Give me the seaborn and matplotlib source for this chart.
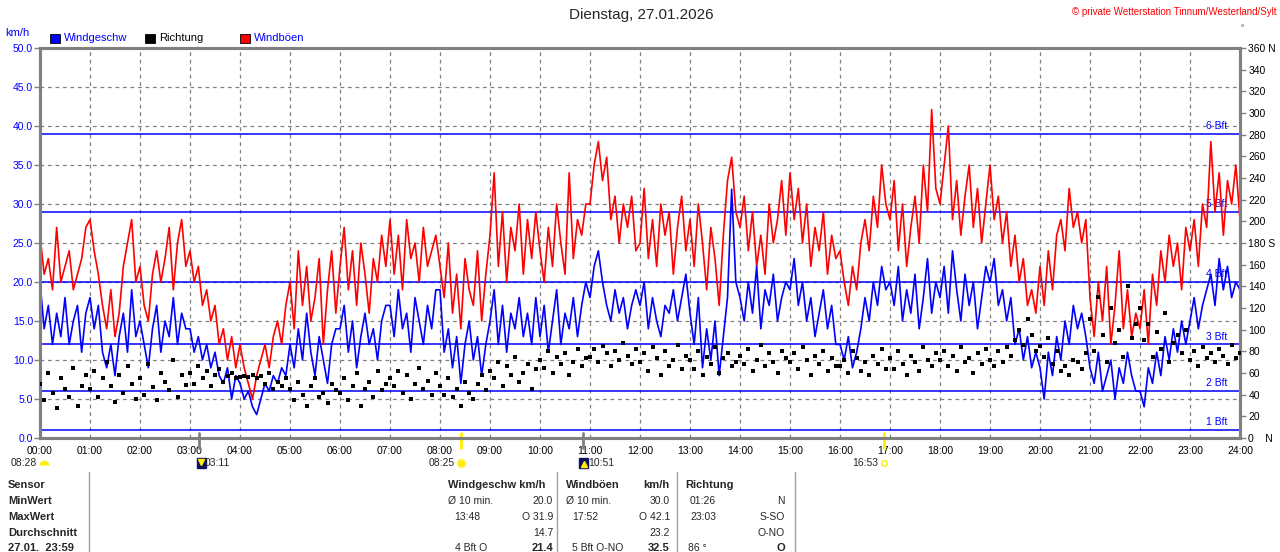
import numpy as np
import pandas as pd
import matplotlib.pyplot as plt
from matplotlib.patches import Rectangle
from matplotlib.lines import Line2D
import seaborn as sns

# 5-minute samples, 00:00 .. 24:00
minutes = np.arange(0, 24 * 60 + 1, 5)

gust = [
    26, 21, 23, 19, 27, 20, 22, 24, 19, 21, 23, 27,
    28, 24, 21, 17, 14, 19, 13, 16, 22, 25, 28, 20,
    22, 17, 15, 21, 24, 20, 23, 27, 19, 25, 28, 22,
    24, 20, 22, 17, 19, 15, 17, 12, 14, 10, 13, 9,
    12, 9, 7, 5, 8, 10, 12, 9, 13, 15, 12, 17,
    20, 14, 24, 17, 22, 15, 18, 23, 12, 19, 24, 16,
    22, 27, 19, 24, 17, 25, 21, 16, 23, 20, 26, 22,
    28, 21, 26, 19, 28, 23, 25, 20, 27, 22, 24, 26,
    22, 18, 25, 16, 21, 14, 23, 19, 17, 24, 15, 21,
    26, 34, 22, 29, 20, 27, 24, 30, 21, 28, 23, 29,
    24, 20, 27, 22, 30, 25, 21, 34, 23, 28, 26, 30,
    30, 35, 38, 33, 36, 28, 31, 25, 30, 27, 31, 24,
    25, 32, 23, 28, 22, 30, 26, 29, 21, 27, 31, 24,
    28, 22, 30, 25, 19, 27, 23, 17, 26, 33, 36, 29,
    27, 31, 24, 29, 22, 26, 21, 30, 25, 28, 33, 26,
    34, 28, 32, 25, 30, 22, 27, 24, 29, 21, 26, 23,
    24, 20, 17, 22, 19, 25, 28, 24, 31, 27, 35, 30,
    28, 33, 24, 30, 22, 27, 31, 25, 35, 29, 42.1, 32,
    30, 35, 40, 28, 33, 26, 31, 35, 27, 32, 25, 30,
    35, 28, 31, 25, 29, 22, 26, 20, 23, 17, 19, 16,
    22, 17, 24, 19, 26, 28, 24, 32, 27, 29, 25, 28,
    18, 13, 20, 15, 22, 12, 17, 24, 14, 19, 13, 16,
    14, 19, 12, 21, 17, 24, 20, 26, 22, 25, 19, 27,
    24, 28, 22, 30, 27, 38, 29, 34, 26, 33, 30, 35, 28,
]

speed = [
    20, 14, 17, 12, 16, 13, 18, 12, 15, 17, 11, 16,
    18, 14, 17, 11, 9, 12, 8, 13, 16, 11, 19, 13,
    15, 12, 9, 14, 17, 11, 15, 13, 18, 12, 16, 14,
    14, 11, 13, 10, 12, 9, 11, 8, 7, 9, 5, 8,
    7, 5, 6, 4, 3, 5, 7, 6, 8, 7, 9, 8,
    12, 9, 14, 10, 16, 11, 8, 13, 10, 7, 12, 14,
    14, 17, 11, 15, 9, 13, 16, 12, 14, 10, 15, 17,
    17, 13, 19, 14, 16, 11, 18, 15, 12, 17, 14, 19,
    19, 11, 14, 9, 13, 7, 12, 15, 10, 13, 8, 12,
    15, 19, 12, 17, 11, 16, 14, 18, 13, 16, 12, 18,
    13, 17, 11, 15, 19, 12, 16, 14, 18, 13, 17, 20,
    18, 22, 24, 20, 17, 15, 19, 16, 18, 14, 17, 19,
    17, 20, 14, 18, 15, 13, 17, 16, 19, 15, 18, 21,
    16, 12, 18, 9, 14, 10, 15, 8, 13, 18, 31.9, 20,
    18, 15, 20, 16, 22, 14, 19, 17, 21, 15, 18, 20,
    19, 23, 17, 20, 15, 18, 13, 16, 19, 14, 17, 12,
    12, 10, 13, 9, 11, 14, 18, 15, 20, 17, 22, 19,
    20, 17, 22, 15, 19, 16, 21, 14, 18, 23, 16, 20,
    18, 22, 16, 24, 19, 15, 21, 17, 20, 14, 18, 22,
    20, 23, 17, 19, 15, 18, 12, 14, 10, 13, 9, 11,
    9, 5, 11, 8, 13, 10, 15, 12, 17, 14, 16, 13,
    9, 7, 11, 6, 8, 10, 5, 9, 7, 11, 8, 6,
    6, 4, 9, 7, 11, 8, 13, 10, 14, 11, 15, 12,
    15, 18, 14, 17, 19, 21, 17, 23, 19, 22, 18, 20, 19,
]

direction = [
    50, 35, 60, 42, 28, 55, 45, 38, 65, 30, 48, 58,
    45, 62, 38, 55, 70, 48, 33, 58, 42, 66, 50, 36,
    55, 40, 68, 47, 35, 60, 52, 44, 72, 38, 58, 49,
    60, 50, 66, 55, 62, 48, 58, 64, 52, 57, 60, 55,
    56, 57, 56, 58, 55, 57, 50, 60, 45, 52, 48, 55,
    45, 35, 52, 40, 30, 48, 55, 38, 42, 32, 50, 44,
    42, 55, 35, 48, 60, 30, 45, 52, 38, 62, 44, 50,
    55, 48, 62, 42, 58, 36, 50, 65, 45, 53, 40, 60,
    48, 40, 55, 38, 45, 30, 52, 42, 36, 50, 58, 44,
    62, 55, 70, 48, 66, 58, 75, 52, 60, 68, 45, 64,
    72, 65, 80, 60, 75, 68, 78, 58, 70, 82, 66, 74,
    75, 82, 70, 85, 78, 66, 80, 72, 88, 76, 68, 82,
    70, 78, 62, 84, 74, 58, 80, 66, 72, 86, 64, 76,
    72, 64, 80, 58, 75, 68, 84, 60, 74, 78, 66, 70,
    76, 68, 82, 62, 72, 86, 66, 78, 70, 60, 80, 74,
    70, 78, 64, 84, 72, 58, 76, 68, 80, 62, 74, 66,
    66, 72, 60, 80, 74, 62, 70, 58, 76, 68, 82, 64,
    74, 64, 80, 68, 58, 76, 70, 62, 84, 72, 66, 78,
    72, 80, 66, 76, 62, 84, 70, 74, 60, 78, 68, 82,
    72, 66, 80, 70, 84, 76, 90, 100, 86, 110, 95, 80,
    85, 75, 92, 68, 80, 62, 66, 58, 72, 70, 64, 78,
    110, 80, 130, 95, 70, 120, 88, 100, 75, 140, 92, 105,
    120, 90, 105, 75, 98, 82, 115, 70, 88, 95, 78, 100,
    72, 80, 66, 84, 74, 78, 70, 82, 76, 68, 86, 74, 78,
]

hour_labels = [f"{h:02d}:00" for h in range(25)]
bft_limits = [1, 6, 12, 20, 29, 39]
bft_labels = ["1 Bft", "2 Bft", "3 Bft", "4 Bft", "5 Bft", "6 Bft"]
dir_ticks = list(range(0, 361, 20))
dir_labels = [{0: "0    N", 180: "180 S", 360: "360 N"}.get(d, str(d)) for d in dir_ticks]

# sun / moon events (hours), label
sun_moon = [(0.0, "08:28"), (3 + 11 / 60, "03:11"), (8 + 25 / 60, "08:25"),
            (10 + 51 / 60, "10:51"), (16 + 53 / 60, "16:53")]

df = pd.DataFrame({
    "Stunde": minutes / 60,
    "Windböen": gust,
    "Windgeschw": speed,
    "Richtung": direction,
})

sns.set_style("white")
plt.rcParams['font.family'] = ['Liberation Sans', 'DejaVu Sans']

W, H = 1280, 552
BLUE = "#0000ff"
GREY = "#808080"


def fx(x):
    return x / W


def fy(y):
    return 1 - y / H


fig = plt.figure(figsize=(12.8, 5.52), dpi=100)
ax = fig.add_axes([fx(40), fy(438), 1200 / W, 390 / H])

# grid
for h in range(1, 24):
    ax.axvline(h, color=GREY, lw=0.9, ls=(0, (3, 3)), zorder=0)
for v in range(5, 50, 5):
    ax.axhline(v, color=GREY, lw=0.9, ls=(0, (3, 3)), zorder=0)

# Beaufort limits
for v, lab in zip(bft_limits, bft_labels):
    ax.axhline(v, color=BLUE, lw=1.1, zorder=1)
    ax.text(23.74, v + 0.35, lab, color=BLUE, fontsize=7.5, ha="right", va="bottom", zorder=1)

sns.lineplot(data=df, x="Stunde", y="Windböen", color="#ff0000", lw=1.2, ax=ax, zorder=2)
sns.lineplot(data=df, x="Stunde", y="Windgeschw", color=BLUE, lw=1.2, ax=ax, zorder=3)

ax.set_xlim(0, 24)
ax.set_ylim(0, 50)
ax.set_xticks(range(25))
ax.set_xticklabels(hour_labels)
ax.set_yticks(range(0, 51, 5))
ax.set_yticklabels([f"{v:.1f}" for v in range(0, 51, 5)])
ax.set_xlabel("")
ax.set_ylabel("")
ax.tick_params(axis="x", length=4, width=1, color=GREY, labelsize=7.5, pad=2, labelcolor="black")
ax.tick_params(axis="y", length=4, width=1, color=GREY, labelsize=7.5, pad=1, labelcolor=BLUE)

ax2 = ax.twinx()
sns.scatterplot(data=df, x="Stunde", y="Richtung", color="black", marker="s",
                s=5, linewidth=0, ax=ax2, zorder=4)
ax2.set_ylim(0, 360)
ax2.set_yticks(dir_ticks)
ax2.set_yticklabels(dir_labels)
ax2.set_ylabel("")
ax2.tick_params(axis="y", length=4, width=1, color=GREY, labelsize=7.5, pad=2, labelcolor="black")

for a in (ax, ax2):
    for s in a.spines.values():
        s.set_color(GREY)
        s.set_linewidth(2.2)

# markers on the time axis
tr = ax.get_xaxis_transform()
for t, c in [(3 + 11 / 60, GREY), (8 + 25 / 60, "#ffee00"), (10 + 51 / 60, GREY), (16 + 53 / 60, "#ffee00")]:
    ax.plot([t, t], [-0.025, 0.012], color=c, lw=2, transform=tr, clip_on=False, zorder=6)

# sun / moon row
row_y = fy(463)
fig.text(fx(37), row_y, sun_moon[0][1], fontsize=7.5, ha="right", va="center")
fig.add_artist(Line2D([fx(44)], [fy(465)], marker="o", ms=7, fillstyle="top",
                      mfc="#ffee00", mfcalt="none", mec="none"))
fig.add_artist(Rectangle((fx(197), fy(468)), 9 / W, 10 / H, color="#101060"))
fig.add_artist(Line2D([fx(201)], [fy(462)], marker="v", ms=4, color="#ffee00"))
fig.text(fx(205), row_y, sun_moon[1][1], fontsize=7.5, ha="left", va="center")
fig.text(fx(455), row_y, sun_moon[2][1], fontsize=7.5, ha="right", va="center")
fig.add_artist(Line2D([fx(461)], [row_y], marker="o", ms=6, color="#ffee00", mec="#fff27a"))
fig.add_artist(Rectangle((fx(579), fy(468)), 9 / W, 10 / H, color="#101060"))
fig.add_artist(Line2D([fx(584)], [fy(464)], marker="^", ms=4, color="#ffee00"))
fig.text(fx(588), row_y, sun_moon[3][1], fontsize=7.5, ha="left", va="center")
fig.text(fx(878), row_y, sun_moon[4][1], fontsize=7.5, ha="right", va="center")
fig.add_artist(Line2D([fx(884)], [row_y], marker="o", ms=4, mfc="none", mec="#ffee00"))

# title and header texts
fig.text(fx(641), fy(15), "Dienstag, 27.01.2026", fontsize=11, ha="center", va="center")
fig.text(fx(1277), fy(12), "© private Wetterstation Tinnum/Westerland/Sylt", fontsize=7,
         color="#ff0000", ha="right", va="center")
fig.text(fx(1242), fy(29), "°", fontsize=6, ha="center", va="center")
fig.text(fx(5), fy(33), "km/h", fontsize=8, color=BLUE, ha="left", va="center")

legend_items = [(50, BLUE, "Windgeschw", BLUE), (145, "black", "Richtung", "black"),
                (240, "#ff0000", "Windböen", BLUE)]
for x0, fc, lab, tc in legend_items:
    fig.add_artist(Rectangle((fx(x0), fy(43)), 10 / W, 9 / H, facecolor=fc,
                             edgecolor="black", lw=0.6))
    fig.text(fx(x0 + 14), fy(38), lab, fontsize=8, color=tc, ha="left", va="center")

# summary table
for xs in (89, 557, 677, 795):
    fig.add_artist(Line2D([fx(xs), fx(xs)], [fy(472), fy(552)], color="#a0a0a0", lw=1))

rows_y = [485, 501, 517, 533, 548]
left_labels = ["Sensor", "MinWert", "MaxWert", "Durchschnitt", "27.01.  23:59"]
for y, lab in zip(rows_y, left_labels):
    fig.text(fx(8), fy(y), lab, fontsize=8, fontweight="bold", ha="left", va="center")

table_cells = [
    # (x, row, text, align, bold)
    (448, 0, "Windgeschw km/h", "left", True),
    (448, 1, "Ø 10 min.", "left", False), (553, 1, "20.0", "right", False),
    (454, 2, "13:48", "left", False), (553, 2, "O 31.9", "right", False),
    (553, 3, "14.7", "right", False),
    (455, 4, "4 Bft O", "left", False), (553, 4, "21.4", "right", True),
    (566, 0, "Windböen", "left", True), (670, 0, "km/h", "right", True),
    (566, 1, "Ø 10 min.", "left", False), (670, 1, "30.0", "right", False),
    (572, 2, "17:52", "left", False), (670, 2, "O 42.1", "right", False),
    (670, 3, "23.2", "right", False),
    (572, 4, "5 Bft O-NO", "left", False), (670, 4, "32.5", "right", True),
    (685, 0, "Richtung", "left", True),
    (690, 1, "01:26", "left", False), (785, 1, "N", "right", False),
    (690, 2, "23:03", "left", False), (785, 2, "S-SO", "right", False),
    (785, 3, "O-NO", "right", False),
    (688, 4, "86 °", "left", False), (785, 4, "O", "right", True),
]
for x, r, txt, al, b in table_cells:
    fig.text(fx(x), fy(rows_y[r]), txt, fontsize=8 if b else 7.5,
             fontweight="bold" if b else "normal", ha=al, va="center")

fig.savefig("out.png", dpi=100)
